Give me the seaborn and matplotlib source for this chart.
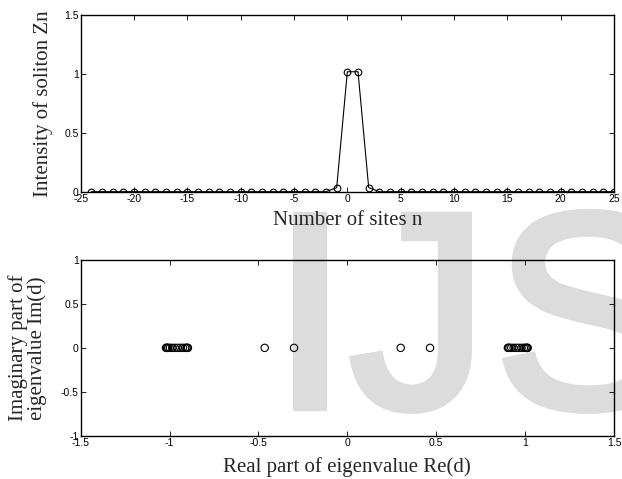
import numpy as np
import pandas as pd
import matplotlib
matplotlib.use("Agg")
import matplotlib.pyplot as plt
import matplotlib.patheffects as pe
import seaborn as sns

# ---- data ----
sites = list(range(-24, 26))
intensity = [0.0] * 50
intensity[sites.index(-1)] = 0.035
intensity[sites.index(0)] = 1.02
intensity[sites.index(1)] = 1.02
intensity[sites.index(2)] = 0.035

eig_real = [-1.02, -1.017, -1.013, -1.007, -0.998, -0.985, -0.97, -0.955,
            -0.94, -0.925, -0.913, -0.905, -0.9, -0.897,
            -0.465, -0.3, 0.3, 0.465,
            0.903, 0.906, 0.912, 0.922, 0.935, 0.95, 0.965, 0.98,
            0.993, 1.002, 1.008, 1.012, 1.014]
eig_imag = [0.0] * len(eig_real)

top_xticks = [-25, -20, -15, -10, -5, 0, 5, 10, 15, 20, 25]
top_yticks = [0, 0.5, 1, 1.5]
top_yticklabels = ["0", "0.5", "1", "1.5"]
bot_xticks = [-1.5, -1, -0.5, 0, 0.5, 1, 1.5]
bot_xticklabels = ["-1.5", "-1", "-0.5", "0", "0.5", "1", "1.5"]
bot_yticks = [-1, -0.5, 0, 0.5, 1]
bot_yticklabels = ["-1", "-0.5", "0", "0.5", "1"]

watermark_letters = ["I", "J", "S"]

df_top = pd.DataFrame({"n": sites, "Z": intensity})
df_bot = pd.DataFrame({"re": eig_real, "im": eig_imag})

sns.set_style("ticks")
plt.rcParams["font.family"] = ["Liberation Sans", "DejaVu Sans"]

W, H = 622, 479
fig = plt.figure(figsize=(W / 100, H / 100), dpi=100, facecolor="white")

def rect(l, t, r, b):
    return [l / W, 1 - b / H, (r - l) / W, (b - t) / H]

ax1 = fig.add_axes(rect(80.7, 15.3, 614, 191.7))
ax2 = fig.add_axes(rect(80.7, 260, 614, 435.7))

# watermark (behind the axes content)
wm_color = "#dcdcdc"
wm_x = [310, 419, 587]
for letter, xc in zip(watermark_letters, wm_x):
    fig.text(xc / W, 1 - 407 / H, letter, fontsize=200, family="Liberation Sans",
             color=wm_color, ha="center", va="baseline", zorder=-5,
             path_effects=[pe.withStroke(linewidth=6, foreground=wm_color,
                                         joinstyle="miter")])

sns.lineplot(data=df_top, x="n", y="Z", ax=ax1, color="black", linewidth=0.8,
             marker="o", markersize=4.8, markerfacecolor="none",
             markeredgecolor="black", markeredgewidth=0.8)
sns.scatterplot(data=df_bot, x="re", y="im", ax=ax2, marker="o", s=28,
                facecolor="none", edgecolor="black", linewidth=0.8)

serif = ["Liberation Serif", "DejaVu Serif"]
for ax in (ax1, ax2):
    ax.set_facecolor("none")
    for sp in ax.spines.values():
        sp.set_visible(True)
        sp.set_linewidth(1.0)
        sp.set_color("black")
    ax.tick_params(direction="in", top=True, right=True, length=3.5, width=0.6,
                   labelsize=7.5, pad=1.5, colors="black")

ax1.set_xlim(-25, 25)
ax1.set_ylim(0, 1.5)
ax1.set_xticks(top_xticks)
ax1.set_xticklabels([str(t) for t in top_xticks])
ax1.set_yticks(top_yticks)
ax1.set_yticklabels(top_yticklabels)
ax1.set_xlabel("Number of sites n", fontsize=15, family=serif)
ax1.set_ylabel("Intensity of soliton Zn", fontsize=15, family=serif)
ax1.xaxis.set_label_coords(0.5, (191.7 - 221) / 176.4)
ax1.xaxis.label.set_va("center")
ax1.yaxis.set_label_coords((43.5 - 80.7) / 533.3, 0.5)
ax1.yaxis.label.set_va("center")

ax2.set_xlim(-1.5, 1.5)
ax2.set_ylim(-1, 1)
ax2.set_xticks(bot_xticks)
ax2.set_xticklabels(bot_xticklabels)
ax2.set_yticks(bot_yticks)
ax2.set_yticklabels(bot_yticklabels)
ax2.set_xlabel("Real part of eigenvalue Re(d)", fontsize=15, family=serif)
ax2.set_ylabel("Imaginary part of\neigenvalue Im(d)", fontsize=15, family=serif,
               linespacing=1.0)
ax2.xaxis.set_label_coords(0.5, (435.7 - 467) / 175.7)
ax2.xaxis.label.set_va("center")
ax2.yaxis.set_label_coords((27.5 - 80.7) / 533.3, 0.5)
ax2.yaxis.label.set_va("center")
ax2.yaxis.label.set_ha("center")

fig.savefig("out.png", dpi=100, facecolor="white")
